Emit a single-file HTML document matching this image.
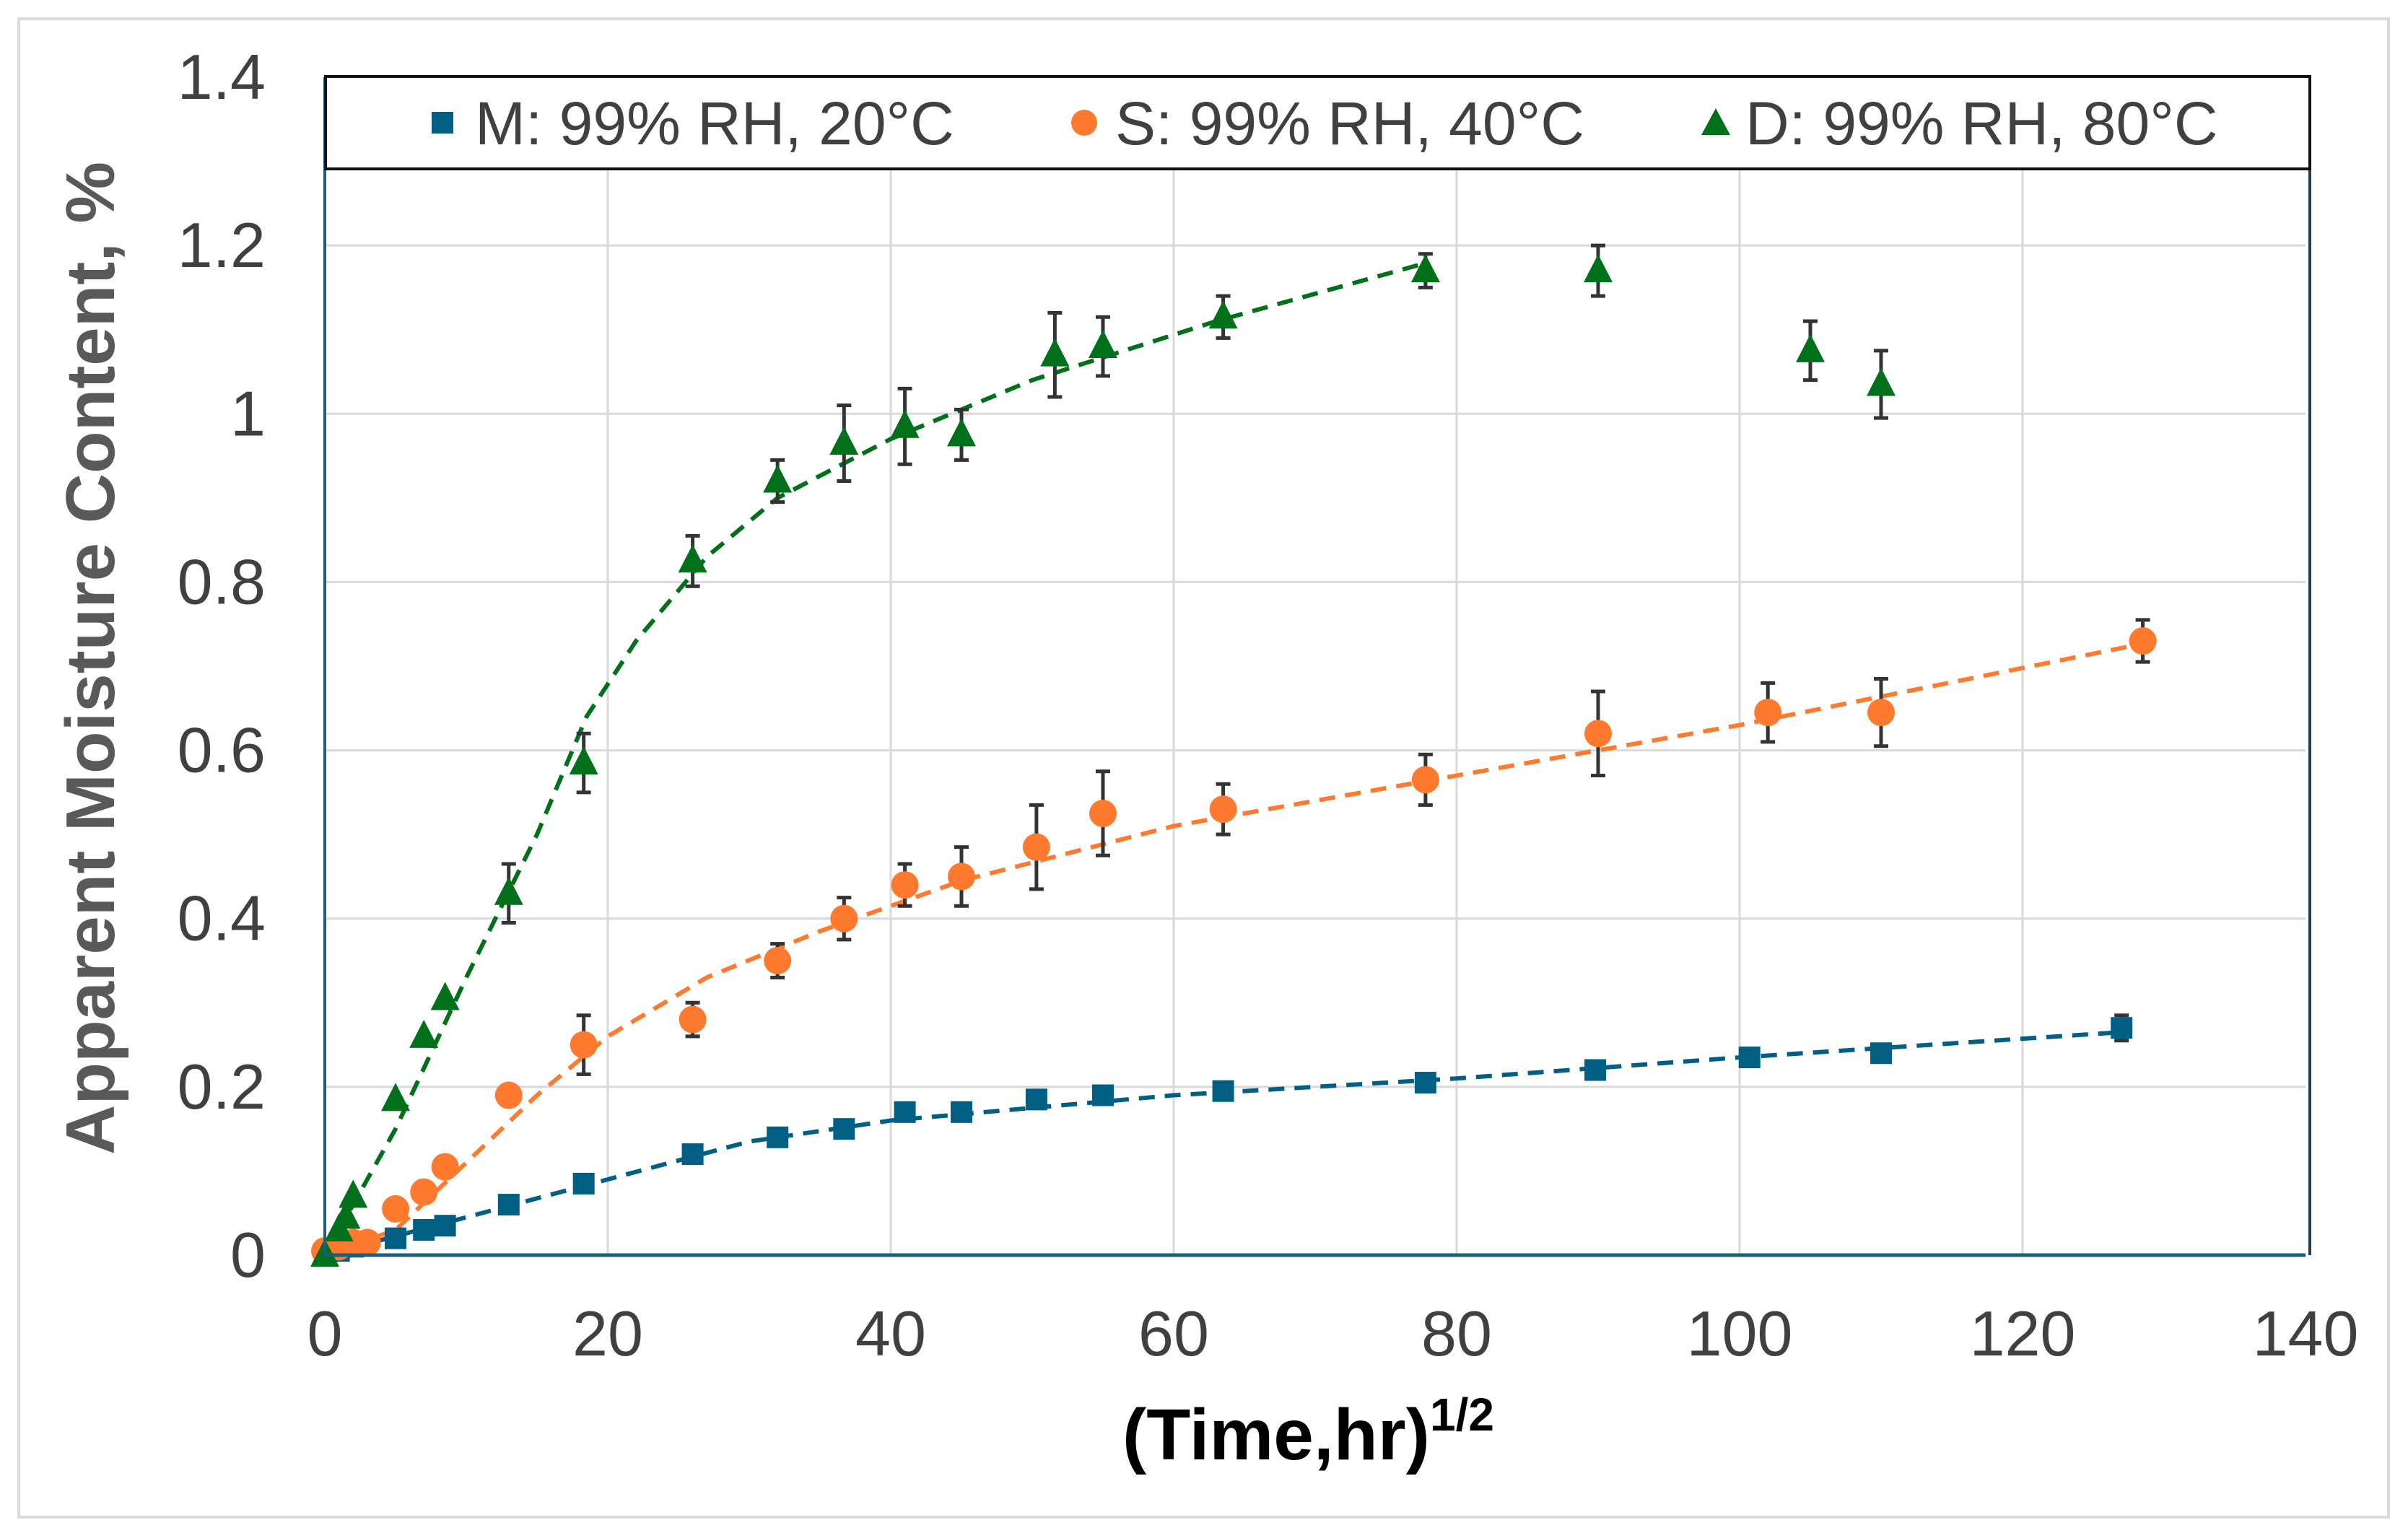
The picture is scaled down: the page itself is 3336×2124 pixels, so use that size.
<!DOCTYPE html>
<html><head><meta charset="utf-8"><style>
html,body{margin:0;padding:0;background:#fff;}
svg{display:block;font-family:"Liberation Sans",Arial,sans-serif;}
</style></head><body>
<svg id="chart" width="3336" height="2124" viewBox="0 0 3336 2124" xmlns="http://www.w3.org/2000/svg">
<rect x="26" y="26" width="3283" height="2076" fill="#fff" stroke="#d9d9d9" stroke-width="4"/>
<g id="grid"></g>
<g id="fits"></g>
<g id="marks"></g>
<g id="axes"></g>
<g>
<rect x="451" y="106" width="2749" height="128" fill="#fff" stroke="#111" stroke-width="4"/>
<rect x="598" y="155" width="30" height="30" fill="#005f83"/>
<text x="658" y="200" font-size="84" fill="#404040">M: 99% RH, 20°C</text>
<circle cx="1502" cy="170" r="18" fill="#ff7a2f"/>
<text x="1545" y="200" font-size="84" fill="#404040">S: 99% RH, 40°C</text>
<polygon points="2377,150 2397,187 2357,187" fill="#00701a"/>
<text x="2418" y="200" font-size="84" fill="#404040">D: 99% RH, 80°C</text>
</g>
<text x="1555" y="2022" font-size="100" font-weight="bold" fill="#000">(Time,hr)<tspan font-size="64" dy="-40">1/2</tspan></text>
<text transform="translate(158,912) rotate(-90)" font-size="96" font-weight="bold" fill="#595959" text-anchor="middle">Apparent Moisture Content, %</text>
</svg>
<script>
const xTicks=[0,20,40,60,80,100,120,140];
const yTicks=[0,0.2,0.4,0.6,0.8,1,1.2,1.4];
const yTickLabels=["0","0.2","0.4","0.6","0.8","1","1.2","1.4"];
const mX=[0,1,2,5,7,8.5,13,18.3,26,32,36.7,41,45,50.3,55,63.5,77.8,89.8,100.7,110,127];
const mY=[0,0.005,0.01,0.02,0.03,0.035,0.06,0.085,0.12,0.14,0.15,0.17,0.17,0.185,0.19,0.195,0.205,0.22,0.235,0.24,0.27];
const mErr=[0,0,0,0,0,0,0,0,0,0,0,0,0,0,0,0,0,0,0,0.01,0.015];
const sX=[0,1,2,3,5,7,8.5,13,18.3,26,32,36.7,41,45,50.3,55,63.5,77.8,90,102,110,128.5];
const sY=[0.005,0.01,0.015,0.015,0.055,0.075,0.105,0.19,0.25,0.28,0.35,0.4,0.44,0.45,0.485,0.525,0.53,0.565,0.62,0.645,0.645,0.73];
const sErr=[0,0,0,0,0,0,0,0,0.035,0.02,0.02,0.025,0.025,0.035,0.05,0.05,0.03,0.03,0.05,0.035,0.04,0.025];
const dX=[0,1,1.5,2,5,7,8.5,13,18.3,26,32,36.7,41,45,51.6,55,63.5,77.8,90,105,110];
const dY=[0,0.03,0.045,0.07,0.185,0.26,0.305,0.43,0.585,0.825,0.92,0.965,0.985,0.975,1.07,1.08,1.115,1.17,1.17,1.075,1.035];
const dErr=[0,0,0,0,0,0,0,0.035,0.035,0.03,0.025,0.045,0.045,0.03,0.05,0.035,0.025,0.02,0.03,0.035,0.04];
const mFitX=[0,10,20,30,40,60,80,100,127];
const mFitY=[0,0.045,0.09,0.135,0.16,0.19,0.21,0.235,0.265];
const sFitX=[0,5,10,15,20,27,35,45,60,80,100,128];
const sFitY=[0,0.03,0.11,0.19,0.26,0.33,0.385,0.445,0.51,0.57,0.63,0.725];
const dFitX=[0,5,10,15,18.5,22,27,32,40,50,63,78];
const dFitY=[0,0.15,0.33,0.5,0.64,0.73,0.83,0.9,0.97,1.04,1.11,1.18];

const X0=450,X1=3194,Y0=1739,Y1=107;
const sx=v=>X0+(v-0)/(140-0)*(X1-X0);
const sy=v=>Y0-(v-0)/(1.4-0)*(Y0-Y1);
const NS="http://www.w3.org/2000/svg";
function mk(tag,parent,attrs){const e=document.createElementNS(NS,tag);for(const k in attrs)e.setAttribute(k,attrs[k]);parent.appendChild(e);return e;}
const grid=document.getElementById('grid'),axes=document.getElementById('axes'),fits=document.getElementById('fits'),marks=document.getElementById('marks');
xTicks.forEach(t=>{
  if(t>0&&t<140){const l=mk('line',grid,{x1:sx(t),x2:sx(t),y1:Y1,y2:Y0,stroke:'#d9d9d9','stroke-width':3});
  
  }
  const tx=mk('text',axes,{x:sx(t),y:1878,'font-size':88,fill:'#404040','text-anchor':'middle'});
  tx.textContent=t;
  
  
});
yTicks.forEach((t,i)=>{
  if(t>0){const l=mk('line',grid,{x1:X0,x2:X1,y1:sy(t),y2:sy(t),stroke:'#d9d9d9','stroke-width':3});
  
  }
  const tx=mk('text',axes,{x:368,y:sy(t)+30,'font-size':88,fill:'#404040','text-anchor':'end'});
  tx.textContent=yTickLabels[i];
  
  
});
const ax1=mk('line',axes,{x1:X0,x2:X1,y1:Y0,y2:Y0,stroke:'#1d5f7a','stroke-width':5});


const ax2=mk('line',axes,{x1:X0,x2:X0,y1:Y1,y2:Y0,stroke:'#1d5f7a','stroke-width':4});


const ax3=mk('line',axes,{x1:X1+6,x2:X1+6,y1:Y1,y2:Y0,stroke:'#1d3f5a','stroke-width':4});



function fit(xs,ys,color,name){
  const p=mk('polyline',fits,{points:xs.map((x,i)=>sx(x)+','+sy(ys[i])).join(' '),fill:'none',stroke:color,'stroke-width':6,'stroke-dasharray':'22 14'});
  
  
}
fit(mFitX,mFitY,'#005f83','fit-line-m');
fit(sFitX,sFitY,'#ff7a2f','fit-line-s');
fit(dFitX,dFitY,'#00701a','fit-line-d');

function series(xs,ys,es,shape,color,name){
  xs.forEach((x,i)=>{
    const cx=sx(x),cy=sy(ys[i]);
    if(es[i]>0){
      const a=sy(ys[i]+es[i]),b=sy(ys[i]-es[i]);
      const e=mk('path',marks,{d:`M${cx},${a}V${b}M${cx-10},${a}H${cx+10}M${cx-10},${b}H${cx+10}`,stroke:'#333','stroke-width':5,fill:'none'});
      
      
    }
    let m;
    if(shape==='sq')m=mk('rect',marks,{x:cx-15,y:cy-15,width:30,height:30,fill:color});
    else if(shape==='ci')m=mk('circle',marks,{cx:cx,cy:cy,r:19,fill:color});
    else m=mk('polygon',marks,{points:`${cx},${cy-23} ${cx+20},${cy+16} ${cx-20},${cy+16}`,fill:color});
    
    
  });
}
series(mX,mY,mErr,'sq','#005f83','series-m');
series(sX,sY,sErr,'ci','#ff7a2f','series-s');
series(dX,dY,dErr,'tr','#00701a','series-d');
</script>
</body></html>
